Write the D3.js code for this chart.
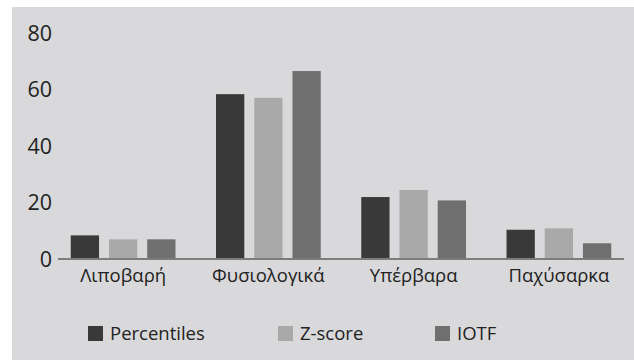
<!DOCTYPE html>
<html><head><meta charset="utf-8">
<script src="https://cdn.jsdelivr.net/npm/d3@7"></script>
<style>body{margin:0;background:#fff}svg{display:block}</style>
</head><body>
<svg id="c" width="634" height="360"></svg>
<script>
const categories = ["Λιποβαρή","Φυσιολογικά","Υπέρβαρα","Παχύσαρκα"];
const seriesNames = ["Percentiles","Z-score","IOTF"];
const percentiles = [8.2, 58.3, 21.8, 10.2];
const zscore = [6.8, 57.0, 24.3, 10.7];
const iotf = [6.8, 66.5, 20.6, 5.4];
const yTicks = [0,20,40,60,80];
const colors = ["#393939","#a9a9a9","#6f6f6f"];

const series = [percentiles, zscore, iotf];
const svg = d3.select("#c");
const font = "'Open Sans', 'Noto Sans', sans-serif";
svg.append("rect").attr("x",12).attr("y",7).attr("width",622).attr("height",353).attr("fill","#d9d9db");

const x = d3.scaleBand().domain(categories).range([50.5,631.5]).paddingInner(0).paddingOuter(0);
const xs = d3.scaleBand().domain(seriesNames).range([0, x.bandwidth()]).paddingInner(0.26).paddingOuter(0.53);
const y = d3.scaleLinear().domain([0,80]).range([258.5,33]);

const g = svg.append("g");
categories.forEach((c,i)=>{
  seriesNames.forEach((s,j)=>{
    g.append("rect")
      .attr("x", x(c)+xs(s))
      .attr("y", y(series[j][i]))
      .attr("width", xs.bandwidth())
      .attr("height", y(0)-y(series[j][i]))
      .attr("fill", colors[j]);
  });
});

svg.append("line").attr("x1",58).attr("x2",624).attr("y1",y(0)+0.5).attr("y2",y(0)+0.5)
  .attr("stroke","#7d7d7d").attr("stroke-width",2);

const yAxis = svg.append("g").attr("transform","translate(52,0)")
  .call(d3.axisLeft(y).tickValues(yTicks).tickSize(0).tickPadding(0));
yAxis.select(".domain").remove();
yAxis.selectAll("text").attr("font-family",font).attr("font-size",21.5).attr("fill","#222").attr("dy","0.35em");

const xAxis = svg.append("g").attr("transform",`translate(0,${y(0)})`)
  .call(d3.axisBottom(x).tickSize(0).tickPadding(10));
xAxis.select(".domain").remove();
xAxis.selectAll("text").attr("font-family",font).attr("font-size",18.5).attr("fill","#222");

const legX = [88, 278, 435];
const leg = svg.append("g");
seriesNames.forEach((s,j)=>{
  leg.append("rect").attr("x",legX[j]).attr("y",326).attr("width",15).attr("height",15).attr("fill",colors[j]);
  leg.append("text").attr("x",legX[j]+22).attr("y",334).attr("dy","0.35em")
    .attr("font-family",font).attr("font-size",18.5).attr("fill","#222").text(s);
});
</script>
</body></html>
